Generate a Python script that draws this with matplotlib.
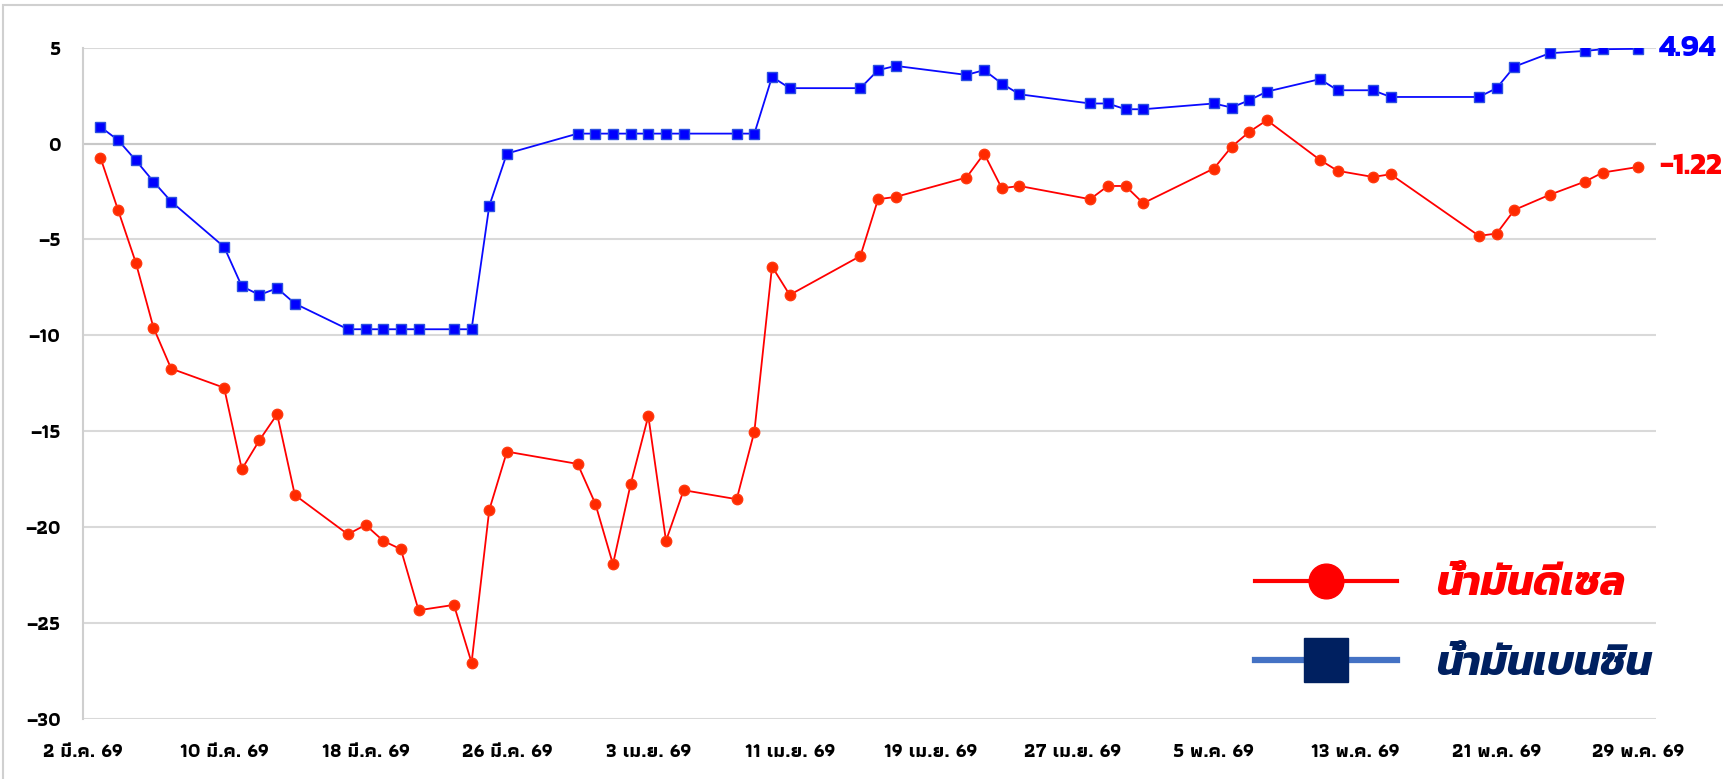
import matplotlib
matplotlib.use("Agg")
import matplotlib.pyplot as plt
from matplotlib.lines import Line2D
from matplotlib.patches import Rectangle
import pandas as pd

# data
dates = ["2026-03-03", "2026-03-04", "2026-03-05", "2026-03-06", "2026-03-07",
         "2026-03-10", "2026-03-11", "2026-03-12", "2026-03-13", "2026-03-14",
         "2026-03-17", "2026-03-18", "2026-03-19", "2026-03-20", "2026-03-21",
         "2026-03-23", "2026-03-24", "2026-03-25", "2026-03-26", "2026-03-30",
         "2026-03-31", "2026-04-01", "2026-04-02", "2026-04-03", "2026-04-04",
         "2026-04-05", "2026-04-08", "2026-04-09", "2026-04-10", "2026-04-11",
         "2026-04-15", "2026-04-16", "2026-04-17", "2026-04-21", "2026-04-22",
         "2026-04-23", "2026-04-24", "2026-04-28", "2026-04-29", "2026-04-30",
         "2026-05-01", "2026-05-05", "2026-05-06", "2026-05-07", "2026-05-08",
         "2026-05-11", "2026-05-12", "2026-05-14", "2026-05-15", "2026-05-20",
         "2026-05-21", "2026-05-22", "2026-05-24", "2026-05-26", "2026-05-27",
         "2026-05-29"]

benzene = [0.87, 0.18, -0.87, -1.98, -3.02,
           -5.39, -7.44, -7.89, -7.54, -8.34,
           -9.68, -9.68, -9.68, -9.68, -9.68,
           -9.68, -9.68, -3.25, -0.52, 0.52,
           0.52, 0.52, 0.52, 0.52, 0.52,
           0.52, 0.52, 0.52, 3.48, 2.89,
           2.89, 3.83, 4.05, 3.58, 3.83,
           3.13, 2.57, 2.09, 2.09, 1.79,
           1.79, 2.09, 1.88, 2.26, 2.71,
           3.36, 2.78, 2.78, 2.43, 2.43,
           2.89, 4.01, 4.71, 4.83, 4.92,
           4.94]

diesel = [-0.73, -3.47, -6.20, -9.59, -11.73,
          -12.73, -16.98, -15.46, -14.11, -18.32,
          -20.37, -19.88, -20.71, -21.15, -24.33,
          -24.05, -27.06, -19.10, -16.06, -16.70,
          -18.77, -21.93, -17.76, -14.20, -20.71,
          -18.07, -18.54, -15.02, -6.41, -7.89,
          -5.86, -2.90, -2.78, -1.77, -0.52,
          -2.33, -2.21, -2.90, -2.21, -2.21,
          -3.11, -1.30, -0.17, 0.61, 1.22,
          -0.85, -1.42, -1.74, -1.60, -4.81,
          -4.69, -3.46, -2.67, -1.98, -1.51,
          -1.22]

tick_labels = ["2 มี.ค. 69", "10 มี.ค. 69", "18 มี.ค. 69", "26 มี.ค. 69",
               "3 เม.ย. 69", "11 เม.ย. 69", "19 เม.ย. 69", "27 เม.ย. 69",
               "5 พ.ค. 69", "13 พ.ค. 69", "21 พ.ค. 69", "29 พ.ค. 69"]
series_names = ["น้ำมันดีเซล", "น้ำมันเบนซิน"]

tick_font = ["Athiti", "DejaVu Sans"]
big_font = ["Kanit", "DejaVu Sans"]
plt.rcParams["font.family"] = tick_font

x = pd.to_datetime(dates)
ticks = pd.date_range("2026-03-02", periods=12, freq="8D")

fig = plt.figure(figsize=(17.24, 7.79), dpi=100)
ax = fig.add_axes([0.048, 0.077, 0.9124, 0.8618])

ax.plot(x, diesel, color="#FF0000", lw=1.3, marker="o", ms=7.5,
        mfc="#FF2A00", mec="#FF3A10", zorder=3)
ax.plot(x, benzene, color="#0A0AFF", lw=1.3, marker="s", ms=7.5,
        mfc="#0000FF", mec="#2A50E0", zorder=3)

ax.set_ylim(-30, 5)
ax.set_yticks(range(-30, 6, 5))
ax.set_xlim(pd.Timestamp("2026-03-02"), pd.Timestamp("2026-05-30"))
ax.set_xticks(ticks)
ax.set_xticklabels(tick_labels)

ax.grid(axis="y", color="#D9D9D9", lw=1.5)
ax.axhline(0, color="#C8C8C8", lw=1.5, zorder=1)
ax.set_axisbelow(True)
for s in ["top", "right", "bottom"]:
    ax.spines[s].set_visible(False)
ax.spines["left"].set_color("#CFCFCF")
ax.spines["left"].set_linewidth(1.5)
ax.tick_params(axis="both", length=0, labelsize=14)
ax.tick_params(axis="y", pad=16)
ax.tick_params(axis="x", pad=17)
for lab in ax.get_xticklabels() + ax.get_yticklabels():
    lab.set_fontweight("bold")

# end values
ax.annotate(f"{benzene[-1]:.2f}", (x[-1], benzene[-1]), xytext=(15, 0),
            textcoords="offset points", ha="left", va="center", family=big_font,
            color="#0000FF", fontsize=22, fontweight="bold", annotation_clip=False)
ax.annotate(f"{diesel[-1]:.2f}", (x[-1], diesel[-1]), xytext=(15, 0),
            textcoords="offset points", ha="left", va="center", family=big_font,
            color="#FF0000", fontsize=22, fontweight="bold", annotation_clip=False)

handles = [Line2D([], [], color="#FF0000", lw=3, marker="o", ms=25,
                  mfc="#FF0000", mec="#FF0000"),
           Line2D([], [], color="#4472C4", lw=4.5, marker="s", ms=32,
                  mfc="#002060", mec="#002060")]
leg = fig.legend(handles, series_names, loc="upper left",
                 bbox_to_anchor=(0.716, 0.30), frameon=False, borderpad=0,
                 handlelength=3.4, handletextpad=0.95, labelspacing=1.0,
                 prop={"family": big_font, "size": 30, "weight": "bold",
                       "style": "italic"},
                 labelcolor=["#FF0000", "#002060"])

# chart area border
fig.patches.append(Rectangle((0.002, -0.1), 1.1, 1.093, transform=fig.transFigure,
                             fill=False, ec="#D0D0D0", lw=1.5))

fig.savefig("out.png", dpi=100, facecolor="white")
